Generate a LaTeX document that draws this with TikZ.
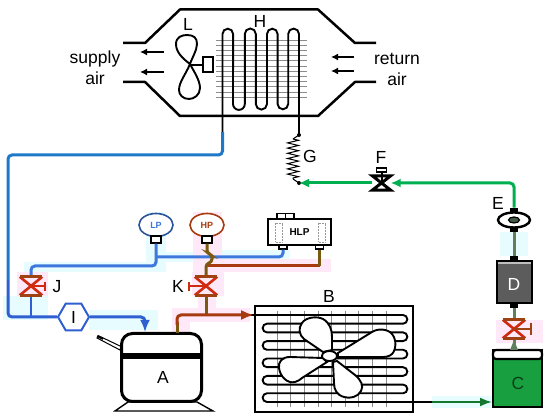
\documentclass[tikz,border=0pt]{standalone}
\usepackage{fontspec}
\setmainfont{Liberation Sans}
\usepackage{tikz}
\usepackage{xcolor}
\usetikzlibrary{arrows.meta,calc,decorations.pathmorphing,shapes.geometric}
\definecolor{SuctionBlue}{HTML}{1F78C8}
\definecolor{GaugeBlue}{HTML}{3F78DC}
\definecolor{HexBlue}{HTML}{2F5FD0}
\definecolor{LineGreen}{HTML}{00B050}
\definecolor{DullGreen}{HTML}{5F7F5F}
\definecolor{HotRed}{HTML}{A83A10}
\definecolor{OliveLine}{HTML}{7A5A10}
\definecolor{ValveRed}{HTML}{D02A10}
\definecolor{SoftPink}{HTML}{FFE8F8}
\definecolor{SoftCyan}{HTML}{E6FCFF}
\definecolor{TankGreen}{HTML}{18A040}
\definecolor{DryerGray}{HTML}{5C5C5C}

\begin{document}
\begin{tikzpicture}[
      x=1pt,y=-1pt,
      font=\fontsize{17.5}{20}\selectfont,
      >={Latex[length=10pt,width=9pt]},
      lab/.style={inner sep=0pt,align=center},
      steel/.style={draw=black,line width=2.5pt,line join=round},
      coil/.style={draw=black,line width=1.9pt},
      fin/.style={draw=black!45,line width=0.6pt},
      blade/.style={draw=black,fill=white,line width=1.9pt},
      flow/.style={line width=1.6pt,draw=black,-{Latex[length=7pt,width=7pt]}},
      bluepipe/.style={line width=3pt,draw=SuctionBlue,rounded corners=4pt},
      lowpipe/.style={line width=3pt,draw=GaugeBlue,rounded corners=4pt},
      hotpipe/.style={line width=3pt,draw=HotRed,rounded corners=4pt},
      olivepipe/.style={line width=3pt,draw=OliveLine,rounded corners=3pt},
      greenpipe/.style={line width=3pt,draw=LineGreen,rounded corners=4pt},
      dullpipe/.style={line width=3pt,draw=DullGreen},
      valvebox/.style={minimum width=22pt,minimum height=18pt,inner sep=0pt},
      gauge/.style={ellipse,minimum width=34pt,minimum height=23pt,inner sep=0pt,fill=white,line width=1.6pt},
      stub/.style={draw=black,fill=white,line width=1.1pt,minimum width=10pt,minimum height=7pt,inner sep=0pt},
      blackstub/.style={fill=black,minimum width=8pt,minimum height=5pt,inner sep=0pt}
    ]
      \useasboundingbox (0,0) rectangle (550,419);
      % glow around the pipes
      \fill[SoftPink] (17,272) rectangle (48,296);
      \fill[SoftPink] (192,272) rectangle (224,296);
      \fill[SoftPink] (496,320) rectangle (543,343);
      \fill[SoftPink] (193,212) rectangle (222,272);
      \fill[SoftPink] (222,259) rectangle (331,272);
      \fill[SoftPink] (198,296) rectangle (216,308);
      \fill[SoftPink] (172,308) rectangle (250,322);
      \fill[SoftPink] (172,322) rectangle (190,333);
      \fill[SoftCyan] (146,212) rectangle (166,262);
      \fill[SoftCyan] (24,262) rectangle (166,272);
      \fill[SoftCyan] (166,252) rectangle (193,262);
      \fill[SoftCyan] (222,250) rectangle (290,259);
      \fill[SoftCyan] (3,296) rectangle (48,320);
      \fill[SoftCyan] (89,310) rectangle (158,330);
      \fill[SoftCyan] (500,232) rectangle (528,256);
      \fill[SoftCyan] (432,396) rectangle (493,408);
      % duct
      \draw[steel] (123,43) -- (145,43) -- (180,9.5) -- (318,9.5) -- (355,43) -- (376,43);
      \draw[steel] (123,82) -- (145,82) -- (180,116) -- (318,116) -- (355,82) -- (376,82);
      \foreach \y in {40,45.2,...,99} \draw[fin] (216,\y) -- (307,\y);
      \node[minimum size=0pt,inner sep=0pt] (hin) at (222.5,135) {};
      \node[minimum size=0pt,inner sep=0pt] (hout) at (299,135) {};
      \draw[coil] (hin) -- (222.5,34) arc (180:360:5.3) -- (233,104) arc (180:0:5.9) -- (244.8,34)
        arc (180:360:5.5) -- (255.8,104) arc (180:0:5.6) -- (267,34) arc (180:360:5.3) -- (277.6,104)
        arc (180:0:5.3) -- (288.2,34) arc (180:360:5.4) -- (hout);
      % evaporator fan
      \draw[blade] (190,64) .. controls (182,58) and (176,52) .. (176,44) .. controls (176,37) and (182,35) .. (187,35)
        .. controls (194,35) and (197,38) .. (197,44) .. controls (197,50) and (192,58) .. (190,64)
        .. controls (193,70) and (200,80) .. (200,88) .. controls (200,95) and (194,99) .. (189,99)
        .. controls (183,99) and (179,95) .. (179,90) .. controls (179,82) and (186,74) .. (190,64) -- cycle;
      \node[draw=black,fill=white,line width=2pt,minimum width=10pt,minimum height=15pt,inner sep=0pt] (motor) at (207.5,65) {};
      \draw[line width=1.9pt] (190,65) -- (motor.west);
      \node[lab] (labL) at (188,24) {L};
      \node[lab] (labH) at (260,21) {H};
      \node[lab] (supply) at (95,68) {supply\\[1pt]air};
      \node[lab] (return) at (397,69) {return\\[1pt]air};
      \draw[flow] (164,52) -- (140,52);
      \draw[flow] (164,72) -- (140,72);
      \draw[flow] (354,57) -- (331,57);
      \draw[flow] (354,71) -- (331,71);
      % expansion
      \fill (hout) circle (2pt);
      \fill (299,183) circle (2pt) coordinate (gend);
      \draw[line width=1pt,decorate,decoration={zigzag,segment length=5.2pt,amplitude=5.5pt}] (293,139) -- (293,179);
      \draw[line width=1pt] (hout) -- (293,139) (293,179) -- (gend);
      \node[lab] (labG) at (310,156) {G};
      \node[valvebox,minimum width=18pt,minimum height=14pt] (F) at (381.5,183) {};
      \draw[line width=3pt,line join=miter] (F.north west) -- (F.south east) -- (F.south west) -- (F.north east) -- cycle;
      \draw[line width=2pt] (F.center) -- (381.5,171);
      \node[draw=black,fill=white,line width=1.6pt,minimum width=10pt,minimum height=4pt,inner sep=0pt] (Fh) at (381.5,170) {};
      \node[lab] (labF) at (381,157) {F};
      % receiver line
      \node[draw=black,ellipse,line width=2.4pt,fill=white,minimum width=32pt,minimum height=15pt,inner sep=0pt] (E) at (514,220) {};
      \node[draw=black,ellipse,fill=DullGreen!70!black,line width=1.2pt,minimum width=11pt,minimum height=6pt,inner sep=0pt] (Ei) at (514,220) {};
      \node[blackstub,anchor=south] (Etop) at (514,213) {};
      \node[blackstub,anchor=north] (Ebot) at (514,227) {};
      \node[lab] (labE) at (498,203) {E};
      \node[draw=black,fill=DryerGray,line width=1.6pt,minimum width=35pt,minimum height=42pt,inner sep=0pt] (D) at (514.5,282) {};
      \node[lab,text=white] at (514,284) {D};
      \fill[black!25] (498,262) rectangle (531,264);
      \node[blackstub,anchor=south] (Dtop) at (514,261) {};
      \node[blackstub,anchor=north] (Dbot) at (514,303) {};
      \node[valvebox] (M) at (514,329) {};
      \node[draw=black,fill=TankGreen,line width=2pt,minimum width=49pt,minimum height=57pt,inner sep=0pt] (C) at (517.5,378.5) {};
      \draw[draw=black,fill=white,line width=2.2pt,rounded corners=3pt] (493,359) -- (493,350) -- (542,350) -- (542,359) -- cycle;
      \node[lab,text=black!60!TankGreen] at (518,383) {C};
      \draw[greenpipe,<-] (F.east) -- (514,183) -- (Etop.north);
      \draw[greenpipe,->] (F.west) -- (gend);
      \draw[dullpipe] (Ebot) -- (Dtop);
      \draw[dullpipe] (Dbot) -- (M.north);
      \draw[dullpipe] (M.south) -- (514,350);
      \fill[DullGreen] (510,350) -- (518,350) -- (514,340) -- cycle;
      % condenser
      \node[draw=black,line width=1.8pt,minimum width=158pt,minimum height=106pt,inner sep=0pt] (B) at (334,359) {};
      \foreach \x in {277,290.6,...,388} \draw[fin] (\x,311) -- (\x,407);
      \draw[coil] (250,315) -- (403,315) arc (-90:90:4.35) -- (267,323.7) arc (270:90:4.35) -- (403,332.4) arc (-90:90:4.35)
        -- (267,341.1) arc (270:90:4.35) -- (403,349.8) arc (-90:90:4.35) -- (267,358.5) arc (270:90:4.35)
        -- (403,367.2) arc (-90:90:4.35) -- (267,375.9) arc (270:90:4.35) -- (403,384.6) arc (-90:90:4.35)
        -- (267,393.3) arc (270:90:4.35) -- (432,402);
      \draw[blade] (323,352) -- (304,339) .. controls (299,335) and (298,328) .. (302,323) .. controls (306,317) and (317,316) .. (323,319)
        .. controls (330,323) and (332,330) .. (332,337) -- (332,350) -- cycle;
      \draw[blade] (338,353) -- (372,332) .. controls (378,328) and (388,329) .. (392,334) .. controls (397,340) and (396,350) .. (392,354)
        .. controls (389,357) and (385,357) .. (380,357) -- (338,357) -- cycle;
      \draw[blade] (323,358) -- (290,357) .. controls (282,357) and (278,362) .. (279,368) .. controls (280,376) and (287,384) .. (295,382)
        .. controls (298,381) and (300,380) .. (302,378) -- (327,362) -- cycle;
      \draw[blade] (337,361) -- (355,375) .. controls (361,380) and (364,386) .. (361,391) .. controls (358,397) and (350,399) .. (344,397)
        .. controls (337,395) and (334,390) .. (334,383) -- (333,362) -- cycle;
      \node[draw=black,ellipse,fill=white,line width=1.9pt,minimum width=15pt,minimum height=10pt,inner sep=0pt] (hub) at (329.5,356) {};
      \node[lab] (labB) at (329,296) {B};
      \draw[line width=2pt,draw=TankGreen!75!black,-{Latex[length=12pt,width=9pt]}] (432,402) -- (C.west |- 0,402);
      % compressor
      \draw[line width=1pt,fill=white] (97,338) -- (98,335.5) -- (121,346.5) -- (120,350) -- cycle;
      \draw[line width=2pt] (98,336.5) -- (103,339);
      \draw[draw=black,fill=white,line width=1.4pt] (115,411) -- (128,402) -- (197,402) -- (213,411) -- cycle;
      \node[draw=black,fill=white,rounded corners=11pt,line width=3pt,minimum width=80pt,minimum height=68pt,inner sep=0pt] (A) at (161.5,367.5) {};
      \fill (121,353) rectangle (202,359);
      \node[lab] at (163,377) {A};
      % suction line
      \node[draw=HexBlue,fill=white,regular polygon,regular polygon sides=6,line width=2pt,minimum size=31pt,inner sep=0pt] (I) at (73.5,317) {};
      \node[lab] at (73.5,317) {I};
      \node[valvebox] (J) at (31,286) {};
      \node[valvebox] (K) at (206,286) {};
      \coordinate (suc) at (222.5,155);
      \draw[draw=black,line width=1.9pt] (hin) -- (suc |- 0,132);
      \draw[bluepipe] (222.5,132) -- (suc) -- (8,155) -- (8,280);
      \draw[draw=HexBlue,line width=3pt,rounded corners=4pt] (8,280) -- (8,317) -- (I.west);
      \draw[draw=HexBlue,line width=3pt,rounded corners=4pt,-{Latex[length=12pt,width=10pt]}] (I.east) -- (145,317) -- (145,317 |- A.north);
      \draw[draw=HexBlue,line width=2.4pt] (J.south) -- (31,317);
      % gauges
      \node[gauge,draw=GaugeBlue!70!black] (LP) at (156,225) {\fontsize{9}{10}\selectfont\bfseries\textcolor{GaugeBlue}{LP}};
      \node[gauge,draw=HotRed] (HP) at (207,225) {\fontsize{9}{10}\selectfont\bfseries\textcolor{HotRed}{HP}};
      \node[stub] (LPs) at (156,239.5) {};
      \node[stub] (HPs) at (207,239.5) {};
      \node[draw=black,fill=white,line width=1.8pt,minimum width=63pt,minimum height=26pt,inner sep=0pt] (HLP) at (299.5,232) {\fontsize{10}{12}\selectfont\bfseries HLP};
      \node[draw=black,fill=white,line width=1.2pt,minimum width=17pt,minimum height=5pt,inner sep=0pt,anchor=south] (HLPt) at (285.5,219) {};
      \draw[line width=1pt] (HLPt.north) -- (HLPt.south);
      \foreach \x in {278.5,321.5} \draw[black!40,line width=0.5pt,densely dotted] (\x-3.5,223) rectangle (\x+3.5,242);
      \node[stub,minimum width=8pt,minimum height=4pt] (HLPa) at (283,247) {};
      \node[stub,minimum width=8pt,minimum height=4pt] (HLPb) at (319.5,247) {};
      \draw[lowpipe] (J.north) -- (31,266) -- (156,266) -- (LPs.south);
      \draw[lowpipe] (156,257) -- (283,257) -- (HLPa.south);
      \draw[hotpipe] (206,266) -- (319.5,266);
      \draw[olivepipe] (319.5,266) -- (HLPb.south);
      \draw[olivepipe] (HPs.south) -- (207,253) -- (212,255) -- (212,262) -- (206,264) -- (K.north);
      \draw[olivepipe] (K.south) -- (206,315);
      \draw[olivepipe] (177,333) -- (177,322);
      \draw[hotpipe,-{Latex[length=13pt,width=10pt]}] (177,325) -- (177,315) -- (B.west |- 0,315);
      % valves
      \foreach \v in {J,K,M} {
        \draw[ValveRed,line width=2.6pt] (\v.north west) -- (\v.south east) (\v.south west) -- (\v.north east);
        \draw[HotRed!75!OliveLine,line width=3pt] (\v.north west) -- (\v.north east) (\v.south west) -- (\v.south east);
      }
      \draw[ValveRed,line width=2.4pt] (J.center) -- (45,286);
      \draw[ValveRed,line width=2.4pt] (45,282) -- (45,291);
      \draw[ValveRed,line width=2.4pt] (K.center) -- (189,286);
      \draw[ValveRed,line width=2.4pt] (189,282) -- (189,291);
      \draw[HotRed!75!OliveLine,line width=2.4pt] (M.center) -- (531,329);
      \draw[HotRed!75!OliveLine,line width=2.4pt] (531,323) -- (531,335);
      \node[lab] (labJ) at (57,287) {J};
      \node[lab] (labK) at (178,286) {K};
    \end{tikzpicture}
\end{document}
